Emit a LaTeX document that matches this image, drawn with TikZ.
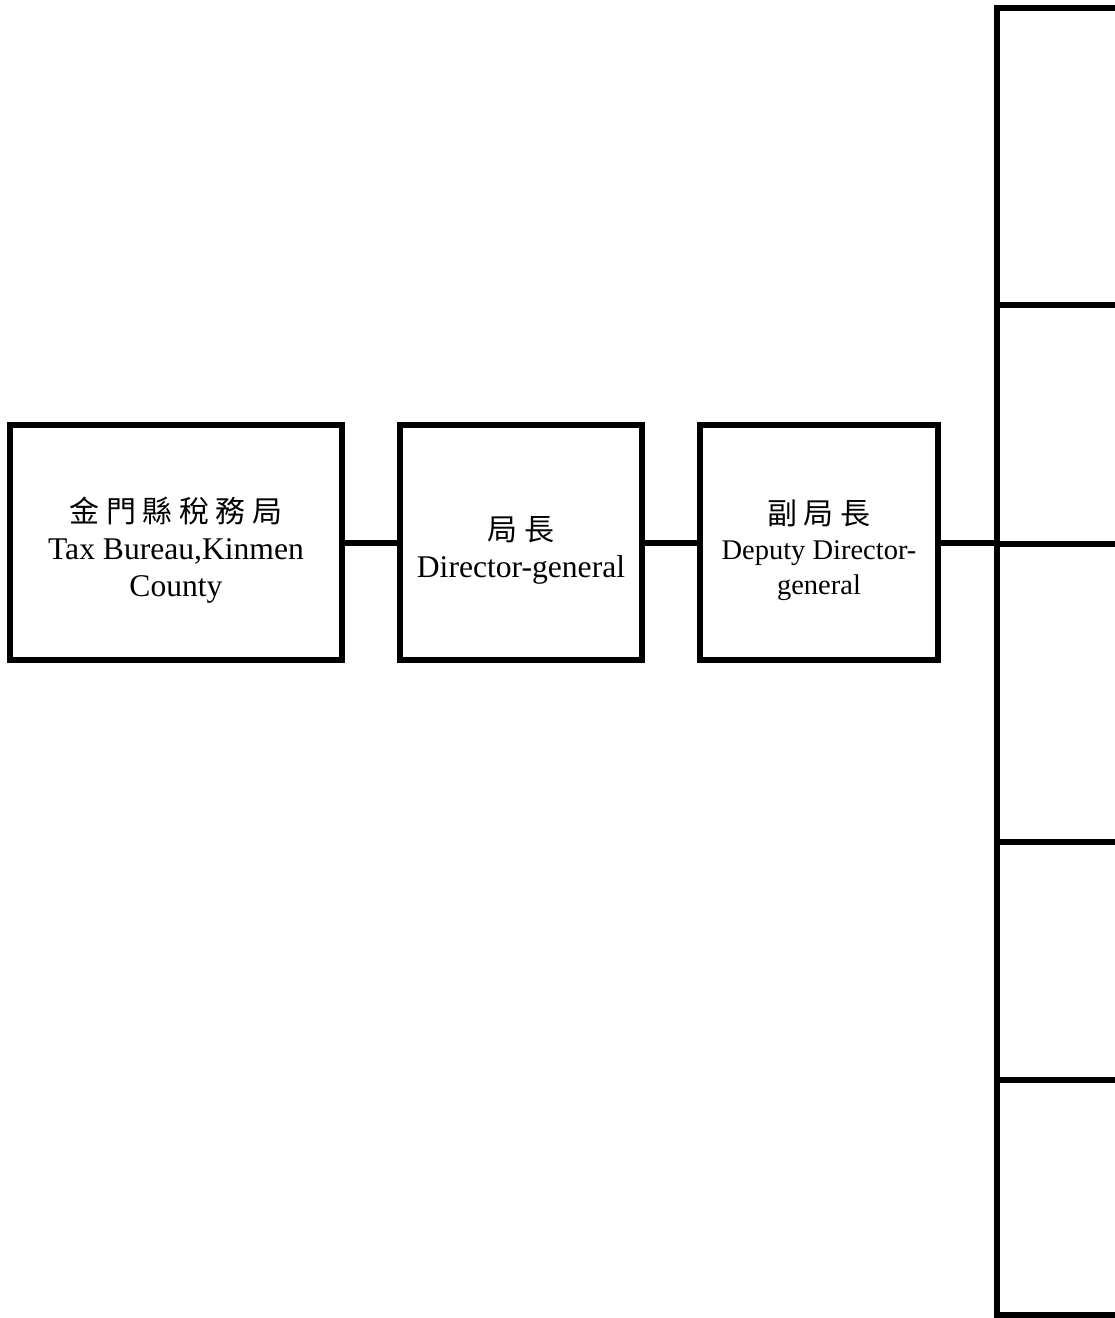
\documentclass[tikz,border=0pt]{standalone}
\usepackage{fontspec}
\setmainfont{Liberation Serif}
\newfontfamily\cjk[LetterSpace=22]{Noto Sans CJK TC}
\usetikzlibrary{positioning}
\tikzstyle{org} = [rectangle, draw, line width=6pt, align=center, inner sep=0pt]
\tikzstyle{unit} = [rectangle, draw, line width=6pt, anchor=north west, outer sep=0pt, minimum width=300pt]
\tikzstyle{link} = [line width=6pt]
\newcommand{\zh}[1]{{\cjk\fontsize{30}{37}\selectfont\rule{0pt}{40pt}#1}}

\begin{document}
\begin{tikzpicture}[x=1pt, y=-1pt]
\useasboundingbox (0,0) rectangle (1115,1318);
\clip (0,0) rectangle (1115,1318);
% head office, director, deputy
\node(A)[org, minimum width=332pt, minimum height=235pt, font=\fontsize{31.6}{37}\selectfont] at (176,542.5)
    {\zh{金門縣稅務局}\\Tax Bureau,Kinmen\\County};
\node(B)[org, minimum width=242pt, minimum height=235pt, font=\fontsize{31.6}{37}\selectfont] at (521,542.5)
    {\zh{局長}\\Director-general};
\node(C)[org, minimum width=238pt, minimum height=235pt, font=\fontsize{28.5}{35}\selectfont] at (819,542.5)
    {\zh{副局長}\\Deputy Director-\\general};
% units on the right
\node(U1)[unit, minimum height=297pt] at (997,8) {};
\node(U2)[unit, minimum height=239pt] at (997,305) {};
\node(U3)[unit, minimum height=298pt] at (997,544) {};
\node(U4)[unit, minimum height=238pt] at (997,842) {};
\node(U5)[unit, minimum height=235pt] at (997,1080) {};
\draw[link](A.east)--(B.west);
\draw[link](B.east)--(C.west);
\draw[link](C.east)--(C.east -| U3.north west);
\end{tikzpicture}
\end{document}
